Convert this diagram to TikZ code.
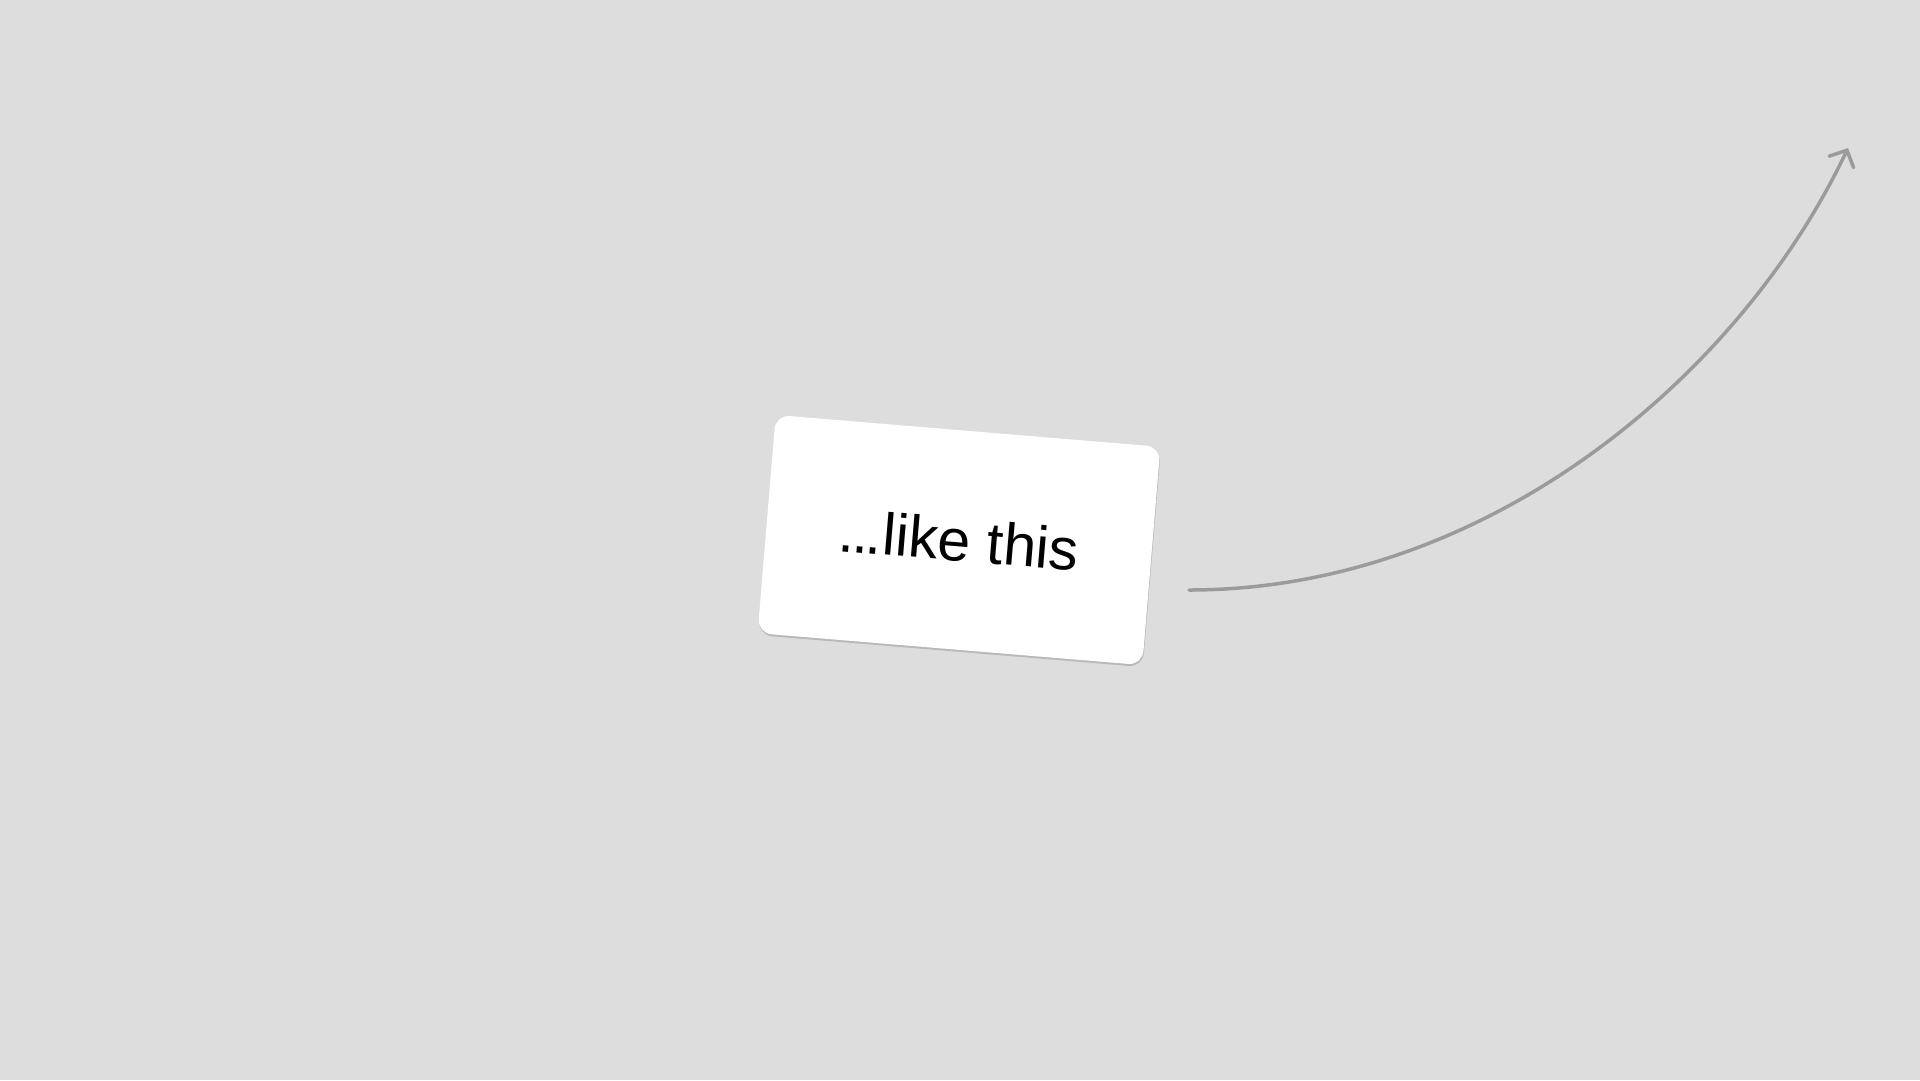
\documentclass[tikz,border=0pt]{standalone}
\usepackage{fontspec}
\setmainfont{Liberation Sans}
\usetikzlibrary{arrows.meta,shadows}

\definecolor{fond}{HTML}{DDDDDD}
\definecolor{trait}{HTML}{9B9B9B}

\begin{document}
\begin{tikzpicture}[x=1pt,y=-1pt,
    card/.style={fill=white, rounded corners=14pt, minimum width=386pt,
      minimum height=219pt, inner sep=0pt, rotate=-4.75,
      font=\fontsize{59}{70}\selectfont,
      drop shadow={shadow xshift=0.5pt, shadow yshift=-2pt, opacity=.25, fill=black!70}},
    link/.style={trait, line width=3.5pt, line cap=round,
      -{Straight Barb[length=13pt,width=27pt,line cap=round]}}]
    % le fond
    \fill[fond] (0,0) rectangle (1920,1080);
    \useasboundingbox (0,0) rectangle (1920,1080);
    % la carte
    \node[card] (card) at (959,540) {.\kern-2.5pt.\kern-2.5pt.like this};
    % la flèche
    \coordinate (start) at (1189,590);
    \coordinate (end) at (1848,148);
    \draw[link] (start) .. controls (1489,590) and (1741,374) .. (end);
\end{tikzpicture}
\end{document}
